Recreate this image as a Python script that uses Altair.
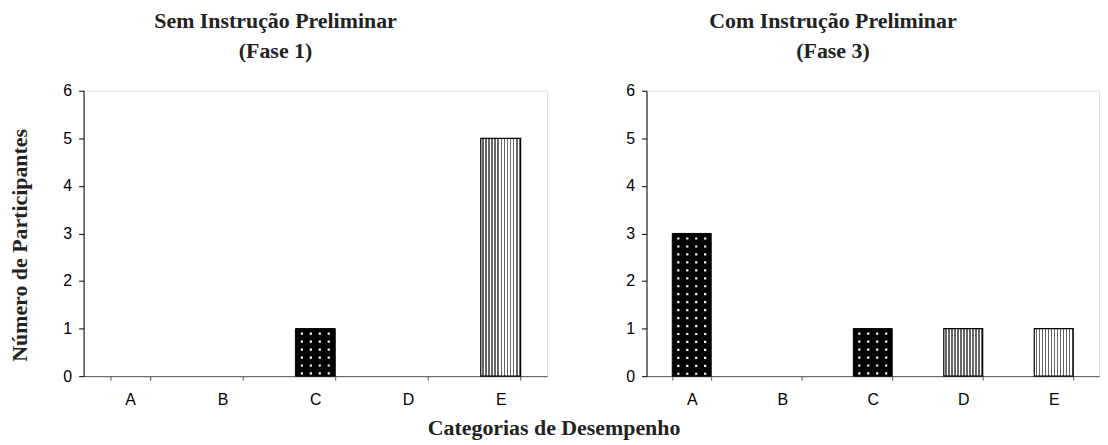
import altair as alt
import pandas as pd

categories = ["A", "B", "C", "D", "E"]
patterns = ["dots", "dots", "dots", "stripes", "stripes"]
fase1_values = [0, 0, 1, 0, 5]
fase3_values = [3, 0, 1, 1, 1]
panel_titles = [["Sem Instrução Preliminar", "(Fase 1)"],
                ["Com Instrução Preliminar", "(Fase 3)"]]
y_title = "Número de Participantes"
x_title = "Categorias de Desempenho"

SERIF = "Liberation Serif"
SANS = "Liberation Sans"
SERIF_SIZE = 22

# vertical stripe gradient (style only)
n_stripes = 13
stops = []
for i in range(n_stripes):
    a = i / n_stripes
    b = (i + 0.45) / n_stripes
    c = (i + 1) / n_stripes
    stops += [alt.GradientStop(offset=a, color="#ffffff"),
              alt.GradientStop(offset=b, color="#ffffff"),
              alt.GradientStop(offset=b, color="#666666"),
              alt.GradientStop(offset=c, color="#666666")]
stripe_fill = alt.Gradient(gradient="linear", stops=stops, x1=0, x2=1, y1=0, y2=0)


def panel(values, title, show_y_title, width):
    df = pd.DataFrame({"cat": categories, "val": values, "pat": patterns})
    df = df[df["val"] > 0]
    x = alt.X("cat:N", scale=alt.Scale(domain=categories, paddingInner=0.57, paddingOuter=0.285),
              axis=alt.Axis(title=None, labelAngle=0, tickBand="extent", tickSize=4,
                            labelFont=SANS, labelFontSize=16, labelColor="#000",
                            labelPadding=11, domainColor="#555", tickColor="#555",
                            grid=False))
    yaxis_kw = dict(values=[0, 1, 2, 3, 4, 5, 6],
                    tickSize=5, labelPadding=7, labelFont=SANS, labelFontSize=16,
                    labelColor="#000", domainColor="#000", tickColor="#000", grid=False)
    if show_y_title:
        yaxis_kw.update(title=y_title, titleFont=SERIF, titleFontSize=SERIF_SIZE,
                        titleFontWeight="bold", titleColor="#222", titlePadding=31,
                        titleY=155)
    else:
        yaxis_kw.update(title=None)
    y = alt.Y("val:Q", scale=alt.Scale(domain=[0, 6], nice=False), axis=alt.Axis(**yaxis_kw))
    base = alt.Chart(df)
    dots = base.transform_filter(alt.datum.pat == "dots").mark_bar(
        fill="#000", stroke="#000", strokeWidth=1).encode(x=x, y=y)
    stripes = base.transform_filter(alt.datum.pat == "stripes").mark_bar(
        fill=stripe_fill, stroke="#000", strokeWidth=1.2).encode(x=x, y=y)
    layers = [dots, stripes]
    for off in [-13.5, -4.5, 4.5, 13.5]:
        layers.append(
            base.transform_filter(alt.datum.pat == "dots").mark_rule(
                xOffset=off, stroke="#fff", strokeWidth=2.2, strokeDash=[2.2, 5.8],
                strokeDashOffset=4, strokeCap="butt").encode(
                x=x, y=y, y2=alt.datum(0))
        )
    return alt.layer(*layers).properties(
        width=width, height=287,
        title=alt.TitleParams(title, font=SERIF, fontSize=SERIF_SIZE, fontWeight="bold",
                              color="#222", lineHeight=30, offset=20, dx=-40,
                              anchor="middle"))


chart = alt.hconcat(
    panel(fase1_values, panel_titles[0], True, 466),
    panel(fase3_values, panel_titles[1], False, 455),
    spacing=77,
).properties(
    padding={"left": 0, "top": 0, "right": 0, "bottom": 0},
    title=alt.TitleParams(x_title, orient="bottom", anchor="middle", font=SERIF,
                          fontSize=SERIF_SIZE, fontWeight="bold", color="#222",
                          offset=11, dx=0)
).configure_view(stroke=None).configure(background="white")

chart.save("out.html", embed_options={"renderer": "svg", "actions": False})
